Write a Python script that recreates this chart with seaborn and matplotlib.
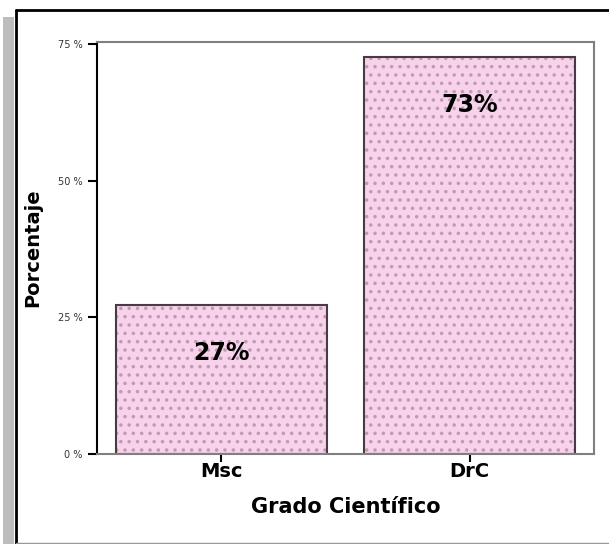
import matplotlib
matplotlib.use("Agg")
import matplotlib.pyplot as plt
import seaborn as sns
import pandas as pd
from matplotlib.lines import Line2D
from matplotlib.patches import Rectangle

categories = ["Msc", "DrC"]
values = [27.3, 72.7]
bar_labels = ["27%", "73%"]
yticks = [0, 25, 50, 75]
ytick_labels = ["0 %", "25 %", "50 %", "75 %"]

sns.set_style("white")
plt.rcParams["font.family"] = ["DejaVu Sans"]
plt.rcParams["hatch.linewidth"] = 1.3

W, H = 609, 544
fig = plt.figure(figsize=(W / 100, H / 100), dpi=100)
fig.patch.set_facecolor("white")

def px(x, y):
    return x / W, 1 - y / H

fig.add_artist(Rectangle(px(3, 544), 11 / W, (544 - 17) / H, transform=fig.transFigure,
                         facecolor="#bdbdbd", edgecolor="none", zorder=0))
x0, y0 = px(15.5, 10)
x1, y1 = px(609, 544)
fig.add_artist(Line2D([x0, x0], [y0, y1], transform=fig.transFigure, color="black", lw=2, zorder=0))
fig.add_artist(Line2D([x0, 1], [y0, y0], transform=fig.transFigure, color="black", lw=2, zorder=0))
yb = px(0, 543)[1]
fig.add_artist(Line2D([x0, 1], [yb, yb], transform=fig.transFigure, color="#999999", lw=1, zorder=0))

left, right = 97 / W, 594 / W
bottom, top = 1 - 454 / H, 1 - 42 / H
ax = fig.add_axes([left, bottom, right - left, top - bottom])

df = pd.DataFrame({"grado": categories, "pct": values})
pink = "#f7d2ea"
sns.barplot(data=df, x="grado", y="pct", color=pink, saturation=1, width=0.85,
            edgecolor="#bf9ab4", linewidth=0, ax=ax, errorbar=None)
for p in ax.patches:
    p.set_hatch("..")
sns.barplot(data=df, x="grado", y="pct", fill=False, width=0.85,
            edgecolor="#4a3a45", linewidth=1.5, ax=ax, errorbar=None)

for i, (v, lab) in enumerate(zip(values, bar_labels)):
    ax.annotate(lab, xy=(i, v), xytext=(0, -35), textcoords="offset points",
                ha="center", va="center", fontsize=17, fontweight="bold", color="black")

ax.set_xlim(-0.5, 1.5)
ax.set_ylim(0, 75.4)
ax.set_yticks(yticks)
ax.set_yticklabels(ytick_labels, fontsize=7, color="#333333")
ax.tick_params(axis="y", direction="out", length=6.5, width=1.5, color="black", pad=4, left=True)
ax.tick_params(axis="x", direction="out", length=6, width=1.5, color="black", pad=0, bottom=True,
               labelsize=14, labelcolor="black")
for t in ax.get_xticklabels():
    t.set_fontweight("bold")

ax.set_xlabel("Grado Científico", fontsize=15, fontweight="bold", color="black")
ax.set_ylabel("Porcentaje", fontsize=14, fontweight="bold", color="black")
ax.xaxis.set_label_coords(0.5, (454 - 507) / 412, transform=ax.transAxes)
ax.xaxis.label.set_va("center")
ax.yaxis.set_label_coords((33 - 97) / 497, 0.5, transform=ax.transAxes)
ax.yaxis.label.set_va("center")

for s in ["top", "right", "bottom"]:
    ax.spines[s].set_visible(True)
    ax.spines[s].set_color("#808080")
    ax.spines[s].set_linewidth(1.5)
ax.spines["left"].set_visible(True)
ax.spines["left"].set_color("black")
ax.spines["left"].set_linewidth(1.5)

fig.savefig("out.png", dpi=100)
